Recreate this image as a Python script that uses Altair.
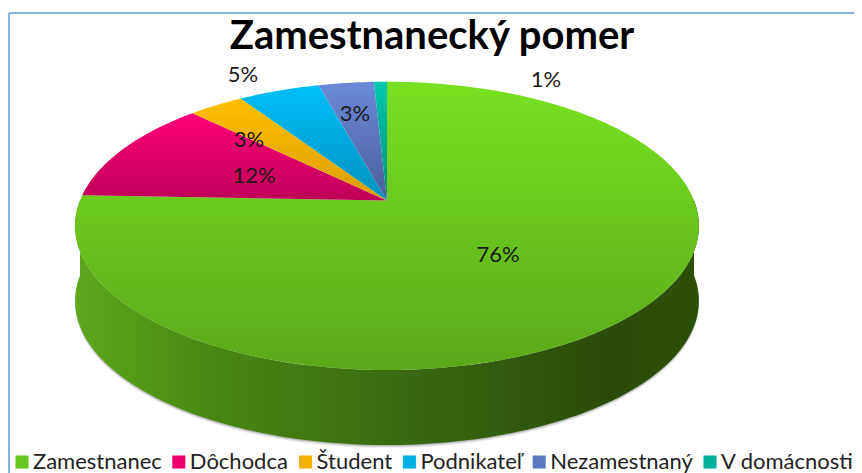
import math
import altair as alt
import pandas as pd

CATEGORIES = ["Zamestnanec", "Dôchodca", "Študent", "Podnikateľ", "Nezamestnaný", "V domácnosti"]
VALUES = [75.6, 11.8, 3.4, 5.0, 3.4, 0.8]
TITLE = "Zamestnanecký pomer"

TOP_COLORS = ["#78E221", "#FF0078", "#FFC000", "#00BEFA", "#6A8AD8", "#00C8AC"]
BOTTOM_COLORS = ["#5BA81A", "#BE0058", "#DC9C00", "#0092BC", "#4A5E9C", "#008E7C"]
LEGEND_COLORS = ["#66C81E", "#EE006C", "#F2B000", "#00AEE6", "#5B78C0", "#00B09A"]

W, H = 846, 465
CX, CY = 387.0, 200.5
R, K, P = 307.0, 139.7, 0.1760
DEPTH = 75.0


def project(theta, depth=0.0):
    u, v = math.sin(theta), math.cos(theta)
    w = 1 + P * v
    return CX + R * u / w, CY - K * v / w + depth


x_scale = alt.Scale(domain=[8, 8 + W], range=[0, W], nice=False, zero=False)
y_scale = alt.Scale(domain=[8 + H, 8], range=[H, 0], nice=False, zero=False)


def polygon(points, fill, **kw):
    df = pd.DataFrame({"x": [p[0] for p in points], "y": [p[1] for p in points], "i": range(len(points))})
    return alt.Chart(df).mark_line(fill=fill, strokeWidth=0, interpolate="linear", **kw).encode(
        x=alt.X("x:Q", scale=x_scale, axis=None),
        y=alt.Y("y:Q", scale=y_scale, axis=None),
        order="i:Q",
    )


def grad_v(c0, c1):
    return alt.Gradient(gradient="linear", x1=0, y1=0, x2=0, y2=1,
                        stops=[alt.GradientStop(color=c0, offset=0), alt.GradientStop(color=c1, offset=1)])


layers = []

# soft shadow + side wall
n = 160
span = [math.pi * (0.5 + i / n) for i in range(n + 1)]   # right -> bottom -> left
wall = [project(t, DEPTH) for t in span] + [project(t) for t in reversed(span)]
for off, op in [(3, 0.10), (2, 0.15), (1, 0.25)]:
    layers.append(polygon([(x, y + off if i <= n else y) for i, (x, y) in enumerate(wall)], "#555555", opacity=op))
wall_grad = alt.Gradient(gradient="linear", x1=0, y1=0, x2=1, y2=0, stops=[
    alt.GradientStop(color="#5EA81C", offset=0),
    alt.GradientStop(color="#4A8A14", offset=0.2),
    alt.GradientStop(color="#3A6C10", offset=0.5),
    alt.GradientStop(color="#2A4C0A", offset=0.85),
    alt.GradientStop(color="#2C5008", offset=1),
])
layers.append(polygon(wall, wall_grad))

# top face wedges, whose angles come from VALUES
total = sum(VALUES)
start = 0.0
for val, c0, c1 in zip(VALUES, TOP_COLORS, BOTTOM_COLORS):
    end = start + val / total
    steps = max(4, int(val * 3))
    pts = [(CX, CY)] + [project(2 * math.pi * (start + (end - start) * j / steps)) for j in range(steps + 1)]
    layers.append(polygon(pts + [(CX, CY)], grad_v(c0, c1)))
    start = end

# frame
layers.append(alt.Chart(pd.DataFrame({"a": [0]})).mark_rule(color="#5B9BD5", strokeWidth=1.5).encode(
    x=alt.value(1), y=alt.value(5), y2=alt.value(H)))
layers.append(alt.Chart(pd.DataFrame({"a": [0]})).mark_rule(color="#5B9BD5", strokeWidth=1.5).encode(
    x=alt.value(1), x2=alt.value(W), y=alt.value(5)))

# title
layers.append(alt.Chart(pd.DataFrame({"t": [TITLE]})).mark_text(
    font="Lato", fontWeight="bold", fontSize=40, color="#000000", align="center", baseline="alphabetic"
).encode(x=alt.value(432 - 8), y=alt.value(49 - 8), text="t:N"))

# percentage labels
label_pos = [(498, 255), (254, 176), (249, 140), (243, 75), (355, 114), (546, 80)]
for val, (lx, ly) in zip(VALUES, label_pos):
    layers.append(alt.Chart(pd.DataFrame({"t": [f"{round(val)}%"]})).mark_text(
        font="Lato", fontSize=22, color="#1a1a1a", align="center", baseline="middle"
    ).encode(x=alt.value(lx - 8), y=alt.value(ly - 8), text="t:N"))

# legend
legend_df = pd.DataFrame({"c": CATEGORIES})
layers.append(alt.Chart(legend_df).mark_square(size=0).encode(
    color=alt.Color("c:N", sort=CATEGORIES,
                    scale=alt.Scale(domain=CATEGORIES, range=LEGEND_COLORS),
                    legend=alt.Legend(orient="none", legendX=3, legendY=443, direction="horizontal",
                                      columns=6, gridAlign="none", title=None, symbolType="square",
                                      symbolSize=170, symbolStrokeWidth=0, symbolOpacity=1,
                                      labelFont="Lato", labelFontSize=22, labelColor="#222222",
                                      labelOffset=0, columnPadding=5.8, padding=0, labelLimit=300)),
))

chart = alt.layer(*layers).properties(
    width=W, height=H, padding=0, autosize=alt.AutoSizeParams(type="none"), background="white"
).configure_view(stroke=None)

chart.save("out.html", embed_options={"renderer": "svg", "actions": False})
